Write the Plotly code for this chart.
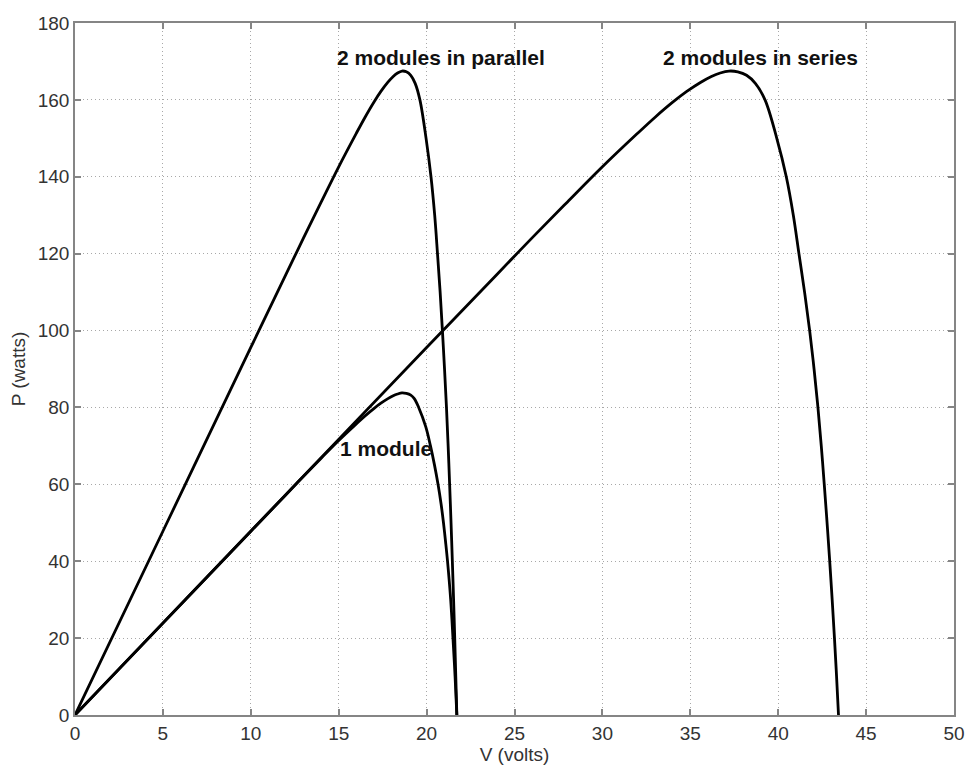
import plotly.graph_objects as go

# P-V characteristics (voltage in volts, power in watts)
v_one = [0, 5, 10, 12, 13, 14, 15, 16, 16.5, 17.0, 17.4, 17.8, 18.1, 18.35, 18.6, 18.85, 19.1, 19.3, 19.55,
         19.95, 20.22, 20.45, 20.65, 20.82, 20.96, 21.08, 21.19, 21.37, 21.5, 21.62, 21.72]
p_one = [0, 23.9, 47.8, 57.3, 62.1, 66.8, 71.4, 75.7, 77.8, 79.7, 81.1, 82.3, 83.05, 83.5, 83.8, 83.65, 83.2, 82.3, 80.0,
         75.0, 70.0, 65.0, 60.0, 55.0, 50.0, 45.0, 40.0, 30.0, 20.0, 10.0, 0]

v_parallel = [0, 5, 10, 12, 13, 14, 15, 16, 16.5, 17.0, 17.4, 17.8, 18.1, 18.35, 18.6, 18.85, 19.1, 19.35, 19.62,
              19.97, 20.25, 20.46, 20.62, 20.77, 20.9, 21.02, 21.13, 21.225, 21.31, 21.39, 21.465,
              21.535, 21.6, 21.66, 21.72]
p_parallel = [0, 47.8, 95.6, 114.6, 124.1, 133.4, 142.6, 151.3, 155.5, 159.4, 162.2, 164.6, 166.1, 167.0, 167.5, 167.3, 166.4, 164.3, 160.0,
              150.0, 140.0, 130.0, 120.0, 110.0, 100.0, 90.0, 80.0, 70.0, 60.0, 50.0, 40.0,
              30.0, 20.0, 10.0, 0]

v_series = [0, 10, 20, 24, 26, 28, 30, 32, 33.0, 34.0, 34.8, 35.6, 36.2, 36.7, 37.2, 37.7, 38.2, 38.7, 39.25,
            39.92, 40.46, 40.86, 41.18, 41.5, 41.79, 42.04, 42.26, 42.45, 42.62, 42.78, 42.93,
            43.07, 43.2, 43.32, 43.43]
p_series = [0, 47.8, 95.6, 114.6, 124.1, 133.4, 142.6, 151.3, 155.5, 159.4, 162.2, 164.6, 166.1, 167.0, 167.5, 167.3, 166.4, 164.3, 160.0,
            150.0, 140.0, 130.0, 120.0, 110.0, 100.0, 90.0, 80.0, 70.0, 60.0, 50.0, 40.0,
            30.0, 20.0, 10.0, 0]

# curve labels and where they sit (V, P)
labels = ["2 modules in parallel", "2 modules in series", "1 module"]
label_v = [20.8, 39.0, 17.7]
label_p = [170.9, 170.9, 69.2]

x_ticks = [0, 5, 10, 15, 20, 25, 30, 35, 40, 45, 50]
y_ticks = [0, 20, 40, 60, 80, 100, 120, 140, 160, 180]

line_style = dict(color="black", width=2.8, shape="spline", smoothing=1.0)

fig = go.Figure()
for vv, pp, name in [(v_parallel, p_parallel, labels[0]),
                     (v_series, p_series, labels[1]),
                     (v_one, p_one, labels[2])]:
    fig.add_trace(go.Scatter(x=vv, y=pp, mode="lines", line=line_style,
                             name=name, showlegend=False, hoverinfo="x+y"))

for text, xv, yv in zip(labels, label_v, label_p):
    fig.add_annotation(x=xv, y=yv, text="<b>%s</b>" % text, showarrow=False,
                       font=dict(family="Liberation Sans, Arial", size=21, color="#111111"),
                       xanchor="center", yanchor="middle")

axis_common = dict(
    showline=True, linecolor="#858585", linewidth=1.5, mirror="ticks",
    ticks="inside", ticklen=6, tickcolor="#858585", tickwidth=1.5,
    showgrid=True, gridcolor="#a8a8a8", griddash="1px,3px", gridwidth=1.2,
    zeroline=False, automargin=False,
    tickfont=dict(family="Liberation Sans, Arial", size=19, color="#333333"),
    title_font=dict(family="Liberation Sans, Arial", size=19, color="#333333"),
)

fig.update_xaxes(range=[0, 50], tickvals=x_ticks, title_text="V (volts)",
                 title_standoff=2, ticklabelstandoff=0, **axis_common)
fig.update_yaxes(range=[0, 180], tickvals=y_ticks, title_text="P (watts)",
                 title_standoff=7, ticklabelstandoff=0, **axis_common)

fig.update_layout(
    width=965, height=767,
    margin=dict(l=75, r=11, t=23, b=52),
    plot_bgcolor="white", paper_bgcolor="white",
    font=dict(family="Liberation Sans, Arial"),
)

fig.write_html("out.html")
